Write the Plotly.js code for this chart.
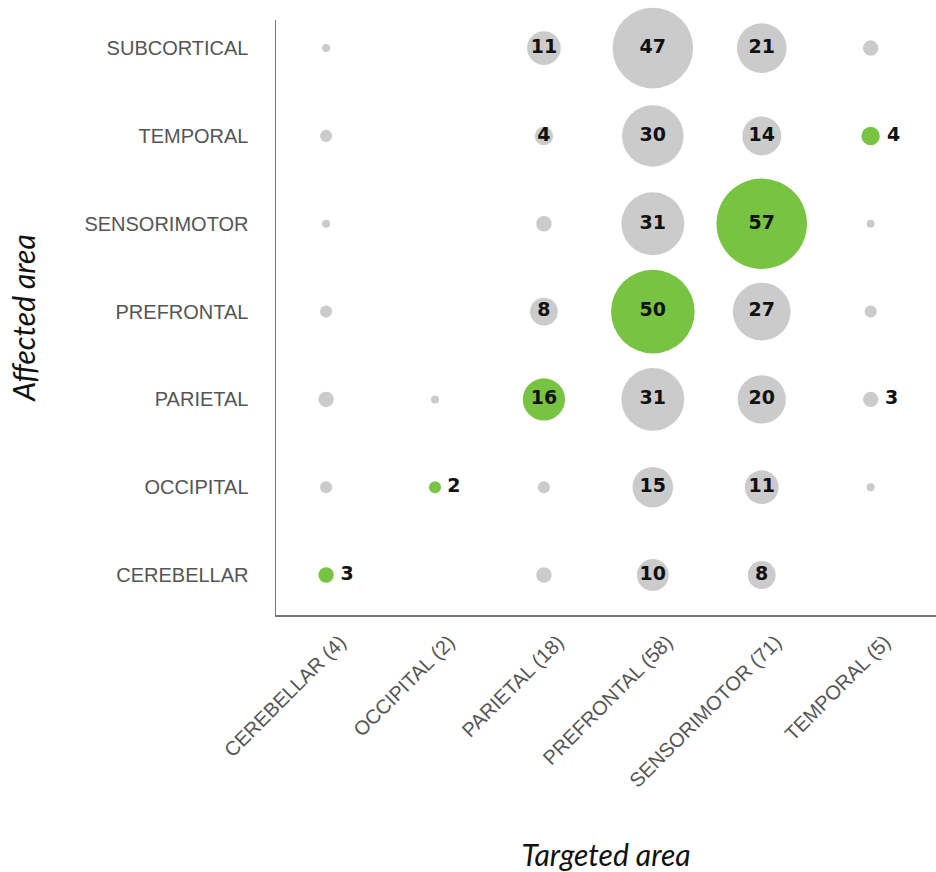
<!DOCTYPE html>
<html>
<head>
<meta charset="utf-8">
<script src="https://cdn.plot.ly/plotly-3.0.1.min.js"></script>
<style>html,body{margin:0;padding:0;background:#fff;}#chart{width:936px;height:872px;}</style>
</head>
<body>
<div id="chart"></div>
<script>
// Targeted areas (x axis) and number of studies per targeted area
const targeted = ["CEREBELLAR", "OCCIPITAL", "PARIETAL", "PREFRONTAL", "SENSORIMOTOR", "TEMPORAL"];
const targetedN = [4, 2, 18, 58, 71, 5];

// Affected areas (y axis), bottom to top
const affected = ["CEREBELLAR", "OCCIPITAL", "PARIETAL", "PREFRONTAL", "SENSORIMOTOR", "TEMPORAL", "SUBCORTICAL"];

// Counts per affected row, columns in the order of `targeted` (null = no study)
const rowCerebellar   = [3, null, 3, 10, 8, null];
const rowOccipital    = [2, 2, 2, 15, 11, 1];
const rowParietal     = [3, 1, 16, 31, 20, 3];
const rowPrefrontal   = [2, null, 8, 50, 27, 2];
const rowSensorimotor = [1, null, 3, 31, 57, 1];
const rowTemporal     = [2, null, 4, 30, 14, 4];
const rowSubcortical  = [1, null, 11, 47, 21, 3];

// Cells whose count is written beside the dot: [affected, targeted]
const outsideLabels = [["CEREBELLAR","CEREBELLAR"], ["OCCIPITAL","OCCIPITAL"], ["TEMPORAL","TEMPORAL"], ["PARIETAL","TEMPORAL"]];

const rows = [rowCerebellar, rowOccipital, rowParietal, rowPrefrontal, rowSensorimotor, rowTemporal, rowSubcortical];

const GRAY = "#cbcbcb", GREEN = "#78c442";
const xs = [], ys = [], sizes = [], colors = [], texts = [], positions = [];
rows.forEach((row, ri) => {
  row.forEach((v, ci) => {
    if (v === null) return;
    const a = affected[ri], t = targeted[ci];
    xs.push(t); ys.push(a);
    sizes.push(8 * Math.pow(v, 0.6));
    colors.push(a === t ? GREEN : GRAY);
    const outside = outsideLabels.some(p => p[0] === a && p[1] === t);
    if (outside) { texts.push("\u2009" + String(v)); positions.push("middle right"); }
    else if (v >= 4) { texts.push(String(v)); positions.push("middle center"); }
    else { texts.push(""); positions.push("middle center"); }
  });
});

const trace = {
  type: "scatter",
  mode: "markers+text",
  x: xs, y: ys,
  text: texts,
  textposition: positions,
  textfont: {family: "DejaVu Sans, sans-serif", size: 19, color: "#111", weight: 700},
  marker: {size: sizes, sizemode: "diameter", color: colors, line: {width: 0}, opacity: 1},
  hoverinfo: "none",
  cliponaxis: false
};

const layout = {
  width: 936, height: 872,
  margin: {l: 276, r: 0, t: 20, b: 257},
  paper_bgcolor: "#fff", plot_bgcolor: "#fff",
  showlegend: false,
  xaxis: {
    type: "category",
    categoryorder: "array", categoryarray: targeted,
    tickvals: targeted,
    ticktext: targeted.map((t, i) => t + " (" + targetedN[i] + ")"),
    tickangle: -45,
    range: [-0.46, 5.6],
    showgrid: false, zeroline: false,
    showline: true, linecolor: "#777", linewidth: 1.5,
    ticks: "",
    ticklabelshift: 14,
    ticklabelstandoff: 6,
    tickfont: {family: "Liberation Sans, Arial, sans-serif", size: 20, color: "#555"},
    automargin: false,
    title: {text: "Targeted area", standoff: 70,
            font: {family: "Lato, sans-serif", size: 30, color: "#111", style: "italic"}}
  },
  yaxis: {
    type: "category",
    categoryorder: "array", categoryarray: affected,
    range: [-0.455, 6.32],
    showgrid: false, zeroline: false,
    showline: true, linecolor: "#777", linewidth: 1.5,
    ticks: "",
    ticklabelstandoff: 22,
    tickfont: {family: "Liberation Sans, Arial, sans-serif", size: 20, color: "#555"},
    automargin: false,
    title: {text: "Affected area", standoff: 40,
            font: {family: "Lato, sans-serif", size: 30, color: "#111", style: "italic"}}
  }
};

Plotly.newPlot("chart", [trace], layout, {displayModeBar: false, staticPlot: true});
</script>
</body>
</html>
